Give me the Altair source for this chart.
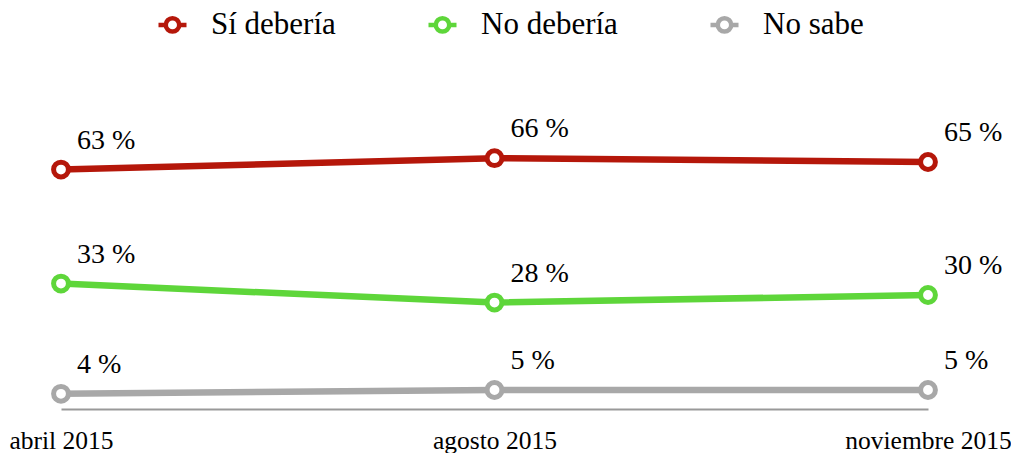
import altair as alt
import pandas as pd

months = ["abril 2015", "agosto 2015", "noviembre 2015"]
series = ["Sí debería", "No debería", "No sabe"]
si_deberia = [63, 66, 65]
no_deberia = [33, 28, 30]
no_sabe = [4, 5, 5]
colors = ["#B5170A", "#5ED63A", "#A8A8A8"]

rows = []
for name, vals in zip(series, [si_deberia, no_deberia, no_sabe]):
    for m, v in zip(months, vals):
        rows.append({"mes": m, "serie": name, "valor": v, "etiqueta": f"{v} %"})
df = pd.DataFrame(rows)

FONT = "Liberation Serif, Noto Serif, DejaVu Serif, serif"
sym_path = ("M-1,0L-0.48,0M0.48,0L1,0M0.48,0A0.48,0.48,0,1,1,-0.48,0"
            "A0.48,0.48,0,1,1,0.48,0Z")

x = alt.X("mes:N", sort=months, scale=alt.Scale(type="point", padding=0),
          axis=alt.Axis(title=None, labelAngle=0, ticks=False, tickSize=0,
                        labelPadding=39, labelBaseline="alphabetic",
                        domainColor="#999999", domainWidth=2, grid=False,
                        labelFontSize=25.5, labelFont=FONT, labelColor="#000000"))
y = alt.Y("valor:Q", scale=alt.Scale(domain=[0, 100]), axis=None)
color = alt.Color("serie:N", scale=alt.Scale(domain=series, range=colors),
                  legend=alt.Legend(title=None, orient="none", legendX=95, legendY=-21,
                                    direction="horizontal", symbolType=sym_path,
                                    symbolSize=784, symbolStrokeWidth=4.5,
                                    labelFontSize=31, labelFont=FONT, labelColor="#000000",
                                    labelOffset=22, columnPadding=83, labelLimit=400))

base = alt.Chart(df).encode(x=x, y=y)
lines = base.mark_line(strokeWidth=6.5).encode(color=color)
points = base.mark_point(filled=False, fill="white", size=220, strokeWidth=5,
                         opacity=1, shape="circle").encode(
    color=alt.Color("serie:N", scale=alt.Scale(domain=series, range=colors), legend=None))
texts = base.mark_text(align="left", dx=16, dy=-21, baseline="alphabetic",
                       fontSize=28, font=FONT, color="#000000").encode(text="etiqueta:N")

chart = alt.layer(lines, points, texts).properties(
    width=867, height=380, autosize="none",
    padding={"left": 53, "top": 21, "right": 83, "bottom": 44},
).configure_view(stroke=None)

chart.save("out.html", embed_options={"renderer": "svg", "actions": False})
